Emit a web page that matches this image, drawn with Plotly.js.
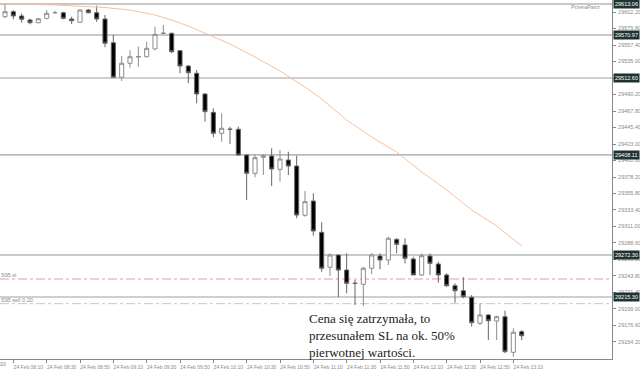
<!DOCTYPE html>
<html><head><meta charset="utf-8">
<script src="https://cdn.plot.ly/plotly-3.0.1.min.js"></script>
<style>html,body{margin:0;padding:0;background:#fff}#chart{width:640px;height:370px}</style>
</head><body><div id="chart"></div>
<script>
const day = "2020-02-24 ";
const times = ["08:05","08:10","08:15","08:20","08:25","08:30","08:35","08:40","08:45","08:50","08:55",
"09:00","09:05","09:10","09:15","09:20","09:25","09:30","09:35","09:40","09:45","09:50","09:55",
"10:00","10:05","10:10","10:15","10:20","10:25","10:30","10:35","10:40","10:45","10:50","10:55",
"11:00","11:05","11:10","11:15","11:20","11:25","11:30","11:35","11:40","11:45","11:50","11:55",
"12:00","12:05","12:10","12:15","12:20","12:25","12:30","12:35","12:40","12:45","12:50","12:55",
"13:00","13:05","13:10","13:15"];
const open = [29595.8,29602.6,29596.8,29591.3,29587.7,29593.6,29601.2,29601.2,29592.7,29588.2,
29604.9,29601.2,29592.7,29560.5,29513.6,29532.6,29541.0,29541.5,29552.0,29573.0,
29573.3,29549.7,29528.9,29519.0,29490.9,29466.0,29437.5,29443.3,29443.0,29408.1,
29383.2,29404.9,29406.7,29388.6,29401.3,29393.1,29326.2,29345.6,29303.1,29255.6,
29272.3,29251.9,29234.2,29232.5,29254.3,29270.9,29265.5,29293.6,29285.9,29266.9,
29245.2,29270.9,29260.1,29245.2,29230.6,29223.8,29214.9,29179.6,29190.9,29182.7,
29188.5,29140.2,29168.2];
const high = [29613.1,29604.9,29600.4,29593.1,29593.6,29604.9,29604.0,29602.6,29595.8,29605.9,
29605.9,29610.8,29598.1,29571.0,29542.5,29550.6,29555.1,29561.9,29582.2,29584.6,
29574.1,29550.6,29530.3,29523.5,29491.8,29471.5,29464.7,29446.5,29446.5,29408.5,
29409.0,29409.0,29417.2,29414.9,29412.5,29407.1,29359.2,29356.1,29316.7,29274.6,
29272.6,29274.6,29238.4,29256.4,29274.6,29274.6,29297.2,29295.0,29295.0,29270.0,
29274.6,29274.6,29263.2,29247.5,29233.9,29242.0,29218.0,29206.7,29192.2,29189.9,
29196.7,29172.8,29170.5];
const low = [29594.0,29592.3,29587.7,29585.5,29586.9,29592.3,29599.5,29592.3,29585.9,29587.7,
29600.4,29589.0,29554.3,29513.0,29508.5,29526.6,29527.9,29540.7,29550.6,29571.9,
29546.1,29519.0,29505.4,29478.3,29453.3,29432.1,29426.1,29423.0,29407.1,29347.0,
29377.8,29380.9,29366.0,29371.8,29380.9,29322.1,29324.3,29298.5,29249.6,29243.8,
29214.9,29220.3,29204.4,29203.1,29246.1,29252.9,29258.7,29274.6,29261.0,29245.0,
29243.8,29245.2,29234.7,29229.3,29207.5,29213.5,29175.0,29177.3,29156.9,29156.9,
29138.9,29134.2,29156.9];
const close = [29602.6,29596.8,29592.3,29587.7,29593.1,29600.4,29601.5,29593.6,29590.4,29604.9,
29601.2,29592.7,29559.7,29513.6,29532.6,29541.5,29541.8,29552.9,29571.9,29573.5,
29548.3,29528.9,29519.8,29490.9,29466.9,29437.5,29444.3,29442.8,29408.1,29383.2,
29404.4,29407.1,29389.1,29402.6,29393.1,29326.6,29344.7,29304.9,29254.3,29272.3,
29251.9,29233.9,29233.6,29254.3,29272.3,29265.5,29295.0,29286.8,29267.8,29245.2,
29271.4,29261.0,29245.2,29230.6,29223.8,29215.7,29180.4,29190.9,29183.1,29188.5,
29141.0,29167.4,29162.7];
const maTimes = ["08:05","08:35","09:05","09:20","09:35","09:45","09:55","10:05","10:20","10:35","10:50",
"11:05","11:15","11:30","11:45","12:00","12:15","12:30","12:45","13:00","13:15"];
const maValues = [29613.1,29611.7,29608.3,29604.9,29598.1,29591.3,29583.2,29573.7,29558.8,29541.1,29522.1,
29500.4,29484.1,29455.6,29432.5,29412.1,29385.0,29360.6,29333.4,29311.7,29284.5];
const levels = [29613.06,29570.97,29512.60,29408.11,29272.30,29215.30];
const levelLight = [true,true,false,false,true,false];
const slLevel = 29239.7, slLabel = "S95 sl";
const sellLevel = 29206.2, sellLabel = "S95 sell 0.20";
const yTicks = [29154.20,29176.60,29199.00,29221.40,29243.80,29266.20,29288.60,29311.00,29333.40,29355.80,
29378.20,29400.60,29423.00,29445.40,29467.80,29490.20,29512.60,29535.00,29557.40,29579.80,29602.20];
const xTickTimes = ["08:10","08:30","08:50","09:10","09:30","09:50","10:10","10:30","10:50",
"11:10","11:30","11:50","12:10","12:30","12:50","13:10"];
const xTickLabels = xTickTimes.map(t => "24 Feb " + t);
const firstDateLabel = "24 Feb 2020";
const note = "Cena się zatrzymała, to<br>przesunałem SL na ok. 50%<br>pierwotnej wartości.";

const X = times.map(t => day + t);
const traces = [
  {type:"scatter", mode:"lines", x: maTimes.map(t=>day+t), y: maValues,
   line:{color:"#f8c09c", width:1}, hoverinfo:"skip", showlegend:false},
  {type:"candlestick", x: X, open, high, low, close, showlegend:false,
   increasing:{line:{color:"#8c8c8c", width:1}, fillcolor:"#ffffff"},
   decreasing:{line:{color:"#666666", width:1}, fillcolor:"#000000"},
   whiskerwidth:0}
];
const shapes = [];
levels.forEach((v,i)=>shapes.push({type:"line", xref:"paper", x0:0, x1:1, yref:"y", y0:v, y1:v,
  line:{color: levelLight[i] ? "#c8c8c8" : "#a0a0a0", width: levelLight[i] ? 2 : 1.2}, layer:"below"}));
shapes.push({type:"line", xref:"paper", x0:0, x1:1, yref:"y", y0:slLevel, y1:slLevel,
  line:{color:"#f19a9a", width:1, dash:"dashdot"}, layer:"below"});
shapes.push({type:"line", xref:"paper", x0:0, x1:1, yref:"y", y0:sellLevel, y1:sellLevel,
  line:{color:"#b5d3b5", width:1, dash:"dashdot"}, layer:"below"});

const small = {family:"Liberation Sans", size:5.5, color:"#8a8a8a"};
const xfont = {family:"Liberation Sans", size:5, color:"#8a8a8a"};
const annotations = levels.map(v=>({xref:"paper", x:1, xanchor:"left", xshift:1, yref:"y", y:v,
  text: v.toFixed(2), showarrow:false, bgcolor:"#1f3333", borderpad:1,
  font:{family:"Liberation Sans", size:5.5, color:"#ffffff"}}));
annotations.push({xref:"paper", x:0, xanchor:"left", yref:"y", y:slLevel, yanchor:"bottom",
  text:slLabel, showarrow:false, font:small, borderpad:0});
annotations.push({xref:"paper", x:0, xanchor:"left", yref:"y", y:sellLevel, yanchor:"bottom",
  text:sellLabel, showarrow:false, font:small, borderpad:0});
annotations.push({xref:"paper", x:307/612, xanchor:"left", yref:"paper", y:1-309/359, yanchor:"top",
  text:note, align:"left", showarrow:false,
  font:{family:"Liberation Serif", size:13, color:"#222222"}});
annotations.push({xref:"paper", x:1, xanchor:"right", xshift:-10, yref:"paper", y:1, yanchor:"top", yshift:-2,
  text:"PrzeraPairz", showarrow:false, font:small});
annotations.push({xref:"paper", x:7/612, xanchor:"right", yref:"paper", y:0, yanchor:"top", yshift:-1,
  text:firstDateLabel, showarrow:false, font:xfont, borderpad:0});

const layout = {
  width:640, height:370, margin:{l:0, r:28, t:0, b:11},
  paper_bgcolor:"#ffffff", plot_bgcolor:"#ffffff", showlegend:false,
  xaxis:{type:"date", range:[day+"08:02", day+"14:09:12"], rangeslider:{visible:false},
    tickmode:"array", tickvals:xTickTimes.map(t=>day+t), ticktext:xTickLabels, tickangle:0,
    ticks:"outside", ticklen:3, tickcolor:"#888", showgrid:false, zeroline:false,
    showline:true, linecolor:"#888", linewidth:1, ticklabelshift:15, ticklabelstandoff:0,
    tickfont:xfont, fixedrange:true},
  yaxis:{side:"right", range:[29131.1, 29618.5], tickmode:"array", tickvals:yTicks,
    ticktext:yTicks.map(v=>levels.some(l=>Math.abs(l-v)<4) ? "" : v.toFixed(2)),
    ticks:"outside", ticklen:3, tickcolor:"#888",
    showgrid:false, zeroline:false, showline:true, linecolor:"#888", linewidth:1,
    tickfont:small, ticklabelstandoff:1},
  shapes, annotations
};
Plotly.newPlot("chart", traces, layout, {displayModeBar:false, staticPlot:true});
</script></body></html>
